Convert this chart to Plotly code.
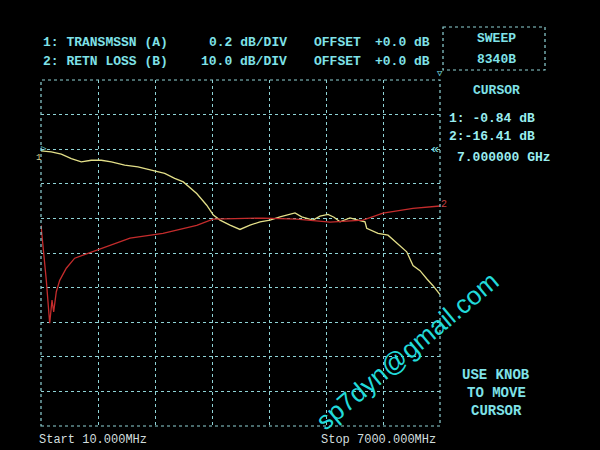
import plotly.graph_objects as go

# ---- data ----
trace1_freq_mhz = [10, 190, 366, 541, 716, 891, 1066, 1242, 1476, 1709, 1942, 2177, 2352, 2503,
                   2738, 2913, 3029, 3146, 3321, 3496, 3672, 3847, 4022, 4197, 4460, 4577, 4775,
                   4898, 5038, 5143, 5248, 5423, 5564, 5686, 5716, 5804, 5914, 6089, 6242, 6417,
                   6527, 6650, 6767, 6878, 7000]
trace1_db = [-0.01, -0.016, -0.029, -0.054, -0.073, -0.064, -0.064, -0.073, -0.092, -0.102,
             -0.121, -0.140, -0.169, -0.189, -0.256, -0.324, -0.381, -0.410, -0.439, -0.464,
             -0.439, -0.420, -0.410, -0.391, -0.368, -0.391, -0.410, -0.387, -0.377, -0.393,
             -0.420, -0.397, -0.410, -0.420, -0.457, -0.468, -0.486, -0.497, -0.543, -0.593,
             -0.673, -0.702, -0.749, -0.789, -0.84]

trace2_freq_mhz = [10, 103, 162, 203, 232, 278, 338, 453, 600, 833, 1008, 1359, 1569, 2147,
                   2738, 3023, 3899, 4489, 5073, 5651, 6001, 6527, 7000]
trace2_db = [-22.0, -37.9, -50.3, -43.6, -47.0, -41.2, -37.9, -34.4, -31.5, -30.1, -28.9,
             -26.8, -25.7, -24.3, -22.0, -20.2, -19.9, -20.2, -21.1, -20.5, -18.5, -17.1, -16.41]

freq_start_mhz = 10
freq_stop_mhz = 7000
n_xdiv = 7
ch1_scale = 0.2    # dB/div
ch2_scale = 10.0   # dB/div
n_ydiv = 10
ref_div_from_top = 2

header_lines = [
    ["1: TRANSMSSN (A)", "0.2 dB/DIV", "OFFSET", "+0.0 dB"],
    ["2: RETN LOSS (B)", "10.0 dB/DIV", "OFFSET", "+0.0 dB"],
]
cursor_lines = ["1: -0.84 dB", "2:-16.41 dB", "7.000000 GHz"]
knob_lines = ["USE KNOB", "TO MOVE", "CURSOR"]
start_label = "Start 10.000MHz"
stop_label = "Stop 7000.000MHz"
watermark = "sp7dyn@gmail.com"

# ---- figure ----
W, H = 600, 450
L, R, T, B = 41, 440, 80, 426

def px(x):
    return (x - L) / (R - L)

def py(y):
    return (B - y) / (B - T)

grid_col = "#8fd3d6"
cyan = "#7fe2e8"
mono = "Liberation Mono, DejaVu Sans Mono, monospace"

xstep = (freq_stop_mhz - freq_start_mhz) / n_xdiv
xticks = [freq_start_mhz + k * xstep for k in range(n_xdiv + 1)]

y1_top = ref_div_from_top * ch1_scale
y1_bot = y1_top - n_ydiv * ch1_scale
y2_top = ref_div_from_top * ch2_scale
y2_bot = y2_top - n_ydiv * ch2_scale

fig = go.Figure()
fig.add_trace(go.Scatter(x=trace2_freq_mhz, y=trace2_db, mode="lines", yaxis="y2",
                         line=dict(color="#c42c2c", width=1.3), hoverinfo="skip"))
fig.add_trace(go.Scatter(x=trace1_freq_mhz, y=trace1_db, mode="lines",
                         line=dict(color="#e2de88", width=1.3), hoverinfo="skip"))

fig.update_layout(
    width=W, height=H,
    margin=dict(l=L, r=W - R, t=T, b=H - B),
    paper_bgcolor="#000000", plot_bgcolor="#000000",
    showlegend=False,
    xaxis=dict(range=[freq_start_mhz, freq_stop_mhz], tickvals=xticks, showticklabels=False,
               showgrid=True, gridcolor=grid_col, griddash="dot", gridwidth=1,
               zeroline=False, showline=False, ticks=""),
    yaxis=dict(range=[y1_bot, y1_top], dtick=ch1_scale, tick0=0, showticklabels=False,
               showgrid=True, gridcolor=grid_col, griddash="dot", gridwidth=1,
               zeroline=False, showline=False, ticks=""),
    yaxis2=dict(range=[y2_bot, y2_top], overlaying="y", showgrid=False, showticklabels=False,
                zeroline=False, showline=False, ticks=""),
)

shapes = [
    dict(type="rect", xref="paper", yref="paper", x0=0, x1=1, y0=0, y1=1,
         line=dict(color=grid_col, width=1.2, dash="dot")),
    dict(type="rect", xref="paper", yref="paper", x0=px(443), x1=px(545), y0=py(27), y1=py(70),
         line=dict(color=grid_col, width=1.2, dash="dot")),
]
fig.update_layout(shapes=shapes)

ann = []

def text(x, y, s, size=13, color=cyan, anchor="left", font=mono, angle=0, bold=True):
    ann.append(dict(x=px(x), y=py(y), xref="paper", yref="paper",
                    text=("<b>%s</b>" % s) if bold else s, showarrow=False,
                    xanchor=anchor, yanchor="middle", textangle=angle,
                    font=dict(family=font, size=size, color=color)))

cols = [(41, "left"), (289, "right"), (312, "left"), (432, "right")]
for row, yy in zip(header_lines, [42, 61]):
    for s, (xx, a) in zip(row, cols):
        text(xx, yy, s, size=13, anchor=a)

text(496, 39, "SWEEP", anchor="center")
text(496, 59, "8340B", anchor="center")
text(496, 90, "CURSOR", anchor="center")
text(447, 118, cursor_lines[0], anchor="left", color="#9aeef0")
text(447, 137, cursor_lines[1], anchor="left", color="#9aeef0")
text(455, 157, cursor_lines[2], anchor="left", color="#9aeef0")
for s, yy in zip(knob_lines, [375, 393, 411]):
    text(496, yy, s, anchor="center", size=14)

text(37, 440, start_label, size=12, color="#d2dede", bold=False)
text(438, 440, stop_label, size=12, color="#d2dede", anchor="right", bold=False)

# reference / trace markers
text(44, 149, "▷", size=9, anchor="center", bold=False)
text(435, 149, "«", size=13, anchor="center", bold=False)
text(440, 74, "▽", size=9, anchor="center", bold=False)
text(38, 158, "1", size=9, color="#d8d890", anchor="center", bold=False)
text(444, 204, "2", size=10, color="#c84040", anchor="center", bold=False)

text(407, 351, watermark, size=26, color="#22dada", anchor="center",
     font="Liberation Sans, Arial, sans-serif", angle=-40, bold=False)

fig.update_layout(annotations=ann)
fig.write_html("out.html", config={"displayModeBar": False},
               post_script="document.body.style.margin='0';document.body.style.background='#000';")
